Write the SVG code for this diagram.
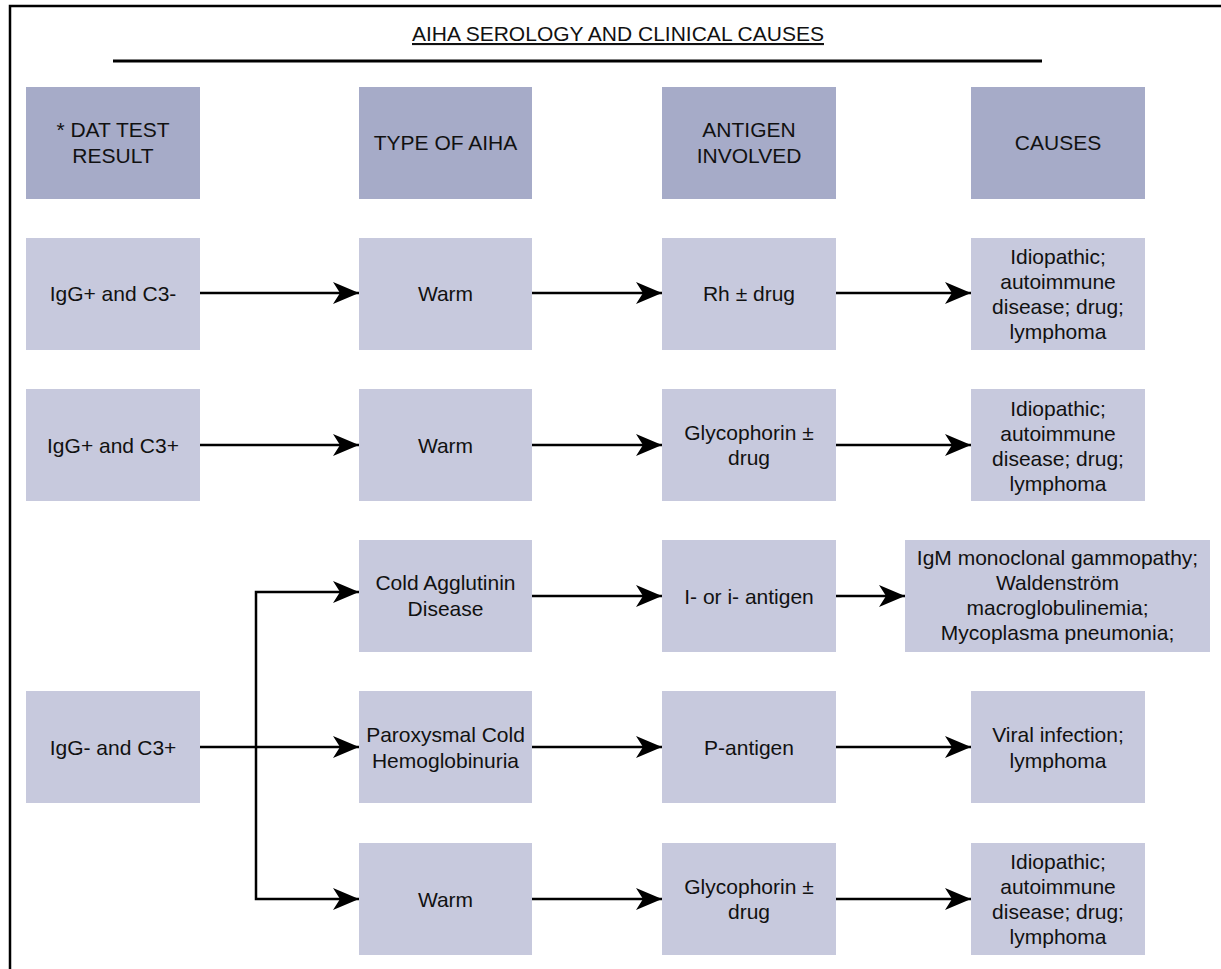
<svg xmlns="http://www.w3.org/2000/svg" width="1221" height="969" viewBox="0 0 1221 969">
<style>
text{font-family:"Liberation Sans",Arial,Helvetica,sans-serif;font-size:21px;fill:#111;text-anchor:middle}
.hdr{fill:#a6abc8}
.box{fill:#c7c9dd}
.con{stroke:#000;stroke-width:2.5;fill:none}
.arr{marker-end:url(#ah)}
</style>
<defs>
<marker id="ah" markerUnits="userSpaceOnUse" markerWidth="28" markerHeight="24" refX="26" refY="11" orient="auto">
<path d="M0,0 L26,11 L0,22 L7,11 Z" fill="#000"/>
</marker>
</defs>
<rect width="1221" height="969" fill="#fff"/>
<path d="M10,969 L10,6 L1221,6" fill="none" stroke="#000" stroke-width="2.5"/>
<g id="title">
<text x="618" y="41" text-decoration="underline">AIHA SEROLOGY AND CLINICAL CAUSES</text>
<line x1="113" y1="61" x2="1042" y2="61" stroke="#000" stroke-width="3"/>
</g>
<g id="h1"><rect class="hdr" x="26" y="87" width="174" height="112"/><text x="113" y="137">* DAT TEST</text><text x="113" y="163">RESULT</text></g>
<g id="h2"><rect class="hdr" x="359" y="87" width="173" height="112"/><text x="445.5" y="150">TYPE OF AIHA</text></g>
<g id="h3"><rect class="hdr" x="662" y="87" width="174" height="112"/><text x="749" y="137">ANTIGEN</text><text x="749" y="163">INVOLVED</text></g>
<g id="h4"><rect class="hdr" x="971" y="87" width="174" height="112"/><text x="1058" y="150">CAUSES</text></g>

<g id="r1c1"><rect class="box" x="26" y="238" width="174" height="112"/><text x="113" y="301">IgG+ and C3-</text></g>
<g id="r1c2"><rect class="box" x="359" y="238" width="173" height="112"/><text x="445.5" y="301">Warm</text></g>
<g id="r1c3"><rect class="box" x="662" y="238" width="174" height="112"/><text x="749" y="301">Rh ± drug</text></g>
<g id="r1c4"><rect class="box" x="971" y="238" width="174" height="112"/><text x="1058" y="264">Idiopathic;</text><text x="1058" y="289">autoimmune</text><text x="1058" y="314">disease; drug;</text><text x="1058" y="339">lymphoma</text></g>

<g id="r2c1"><rect class="box" x="26" y="389" width="174" height="112"/><text x="113" y="453">IgG+ and C3+</text></g>
<g id="r2c2"><rect class="box" x="359" y="389" width="173" height="112"/><text x="445.5" y="453">Warm</text></g>
<g id="r2c3"><rect class="box" x="662" y="389" width="174" height="112"/><text x="749" y="440">Glycophorin ±</text><text x="749" y="465">drug</text></g>
<g id="r2c4"><rect class="box" x="971" y="389" width="174" height="112"/><text x="1058" y="416">Idiopathic;</text><text x="1058" y="441">autoimmune</text><text x="1058" y="466">disease; drug;</text><text x="1058" y="491">lymphoma</text></g>

<g id="r3c2"><rect class="box" x="359" y="540" width="173" height="112"/><text x="445.5" y="590">Cold Agglutinin</text><text x="445.5" y="616">Disease</text></g>
<g id="r3c3"><rect class="box" x="662" y="540" width="174" height="112"/><text x="749" y="604">I- or i- antigen</text></g>
<g id="r3c4"><rect class="box" x="905" y="540" width="305" height="112"/><text x="1057.5" y="565">IgM monoclonal gammopathy;</text><text x="1057.5" y="590">Waldenström</text><text x="1057.5" y="615">macroglobulinemia;</text><text x="1057.5" y="640">Mycoplasma pneumonia;</text></g>

<g id="r4c1"><rect class="box" x="26" y="691" width="174" height="112"/><text x="113" y="755">IgG- and C3+</text></g>
<g id="r4c2"><rect class="box" x="359" y="691" width="173" height="112"/><text x="445.5" y="742">Paroxysmal Cold</text><text x="445.5" y="768">Hemoglobinuria</text></g>
<g id="r4c3"><rect class="box" x="662" y="691" width="174" height="112"/><text x="749" y="755">P-antigen</text></g>
<g id="r4c4"><rect class="box" x="971" y="691" width="174" height="112"/><text x="1058" y="742">Viral infection;</text><text x="1058" y="768">lymphoma</text></g>

<g id="r5c2"><rect class="box" x="359" y="843" width="173" height="112"/><text x="445.5" y="907">Warm</text></g>
<g id="r5c3"><rect class="box" x="662" y="843" width="174" height="112"/><text x="749" y="894">Glycophorin ±</text><text x="749" y="919">drug</text></g>
<g id="r5c4"><rect class="box" x="971" y="843" width="174" height="112"/><text x="1058" y="869">Idiopathic;</text><text x="1058" y="894">autoimmune</text><text x="1058" y="919">disease; drug;</text><text x="1058" y="944">lymphoma</text></g>

<g id="connectors" class="con">
<path class="arr" d="M200,293 H359"/>
<path class="arr" d="M532,293 H662"/>
<path class="arr" d="M836,293 H971"/>
<path class="arr" d="M200,445 H359"/>
<path class="arr" d="M532,445 H662"/>
<path class="arr" d="M836,445 H971"/>
<path class="arr" d="M200,747 H359"/>
<path class="arr" d="M256,747 V592 H359"/>
<path class="arr" d="M256,747 V899 H359"/>
<path class="arr" d="M532,596 H662"/>
<path class="arr" d="M836,596 H905"/>
<path class="arr" d="M532,747 H662"/>
<path class="arr" d="M836,747 H971"/>
<path class="arr" d="M532,899 H662"/>
<path class="arr" d="M836,899 H971"/>
</g>
</svg>
